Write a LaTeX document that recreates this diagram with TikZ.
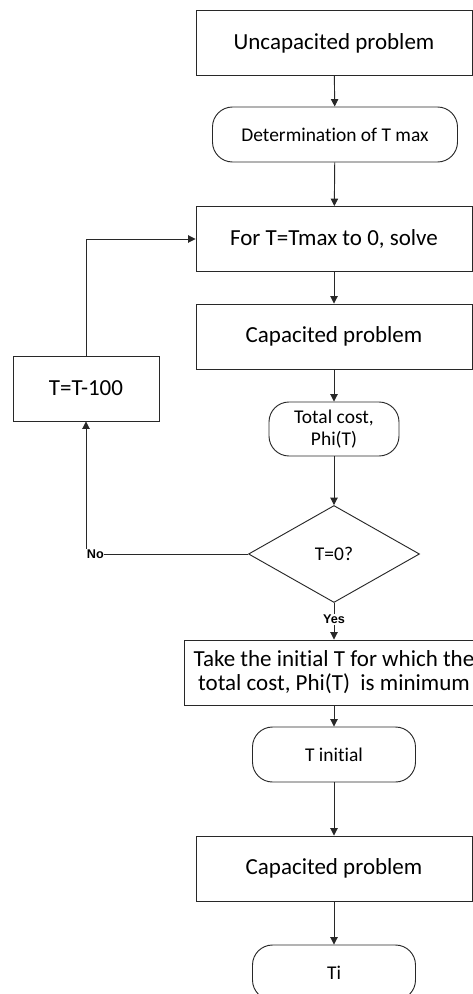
\documentclass[tikz,border=0pt]{standalone}
\usepackage{fontspec}
\setmainfont{Carlito}[Ligatures=NoCommon]
\newfontfamily\lblfont{Liberation Sans}
\usepackage{tikz}
\usetikzlibrary{shapes.geometric, arrows.meta, positioning}
\definecolor{cLine}{RGB}{40,40,40}
\tikzset{
	mainbox/.style ={rectangle, draw=cLine, line width=0.7pt, minimum width=207pt, minimum height=48.75pt, inner sep=0pt, align=center, font=\fontsize{17.25}{18}\selectfont},
	roundbox/.style={rectangle, rounded corners=15pt, draw=cLine, line width=0.7pt, minimum height=41.25pt, inner sep=0pt, align=center, font=\fontsize{14.6}{16.5}\selectfont},
	decision/.style={diamond, draw=cLine, line width=0.7pt, minimum width=128.25pt, minimum height=72.75pt, inner sep=0pt, align=center, font=\fontsize{14.6}{16.5}\selectfont},
	flowarrow/.style={-{Triangle[length=5.5pt,width=5.5pt]}, line width=0.7pt, draw=cLine},
	yesno/.style   ={font=\lblfont\fontsize{9.5}{10}\bfseries\selectfont, inner sep=1pt, fill=white},
}

\begin{document}
\begin{tikzpicture}[x=0.75pt, y=-0.75pt]
	\useasboundingbox (0,0) rectangle (473,994);
	% ---------- main column ----------
	\node[mainbox] (unc) at (334,43) {Uncapacited problem};
	\node[roundbox, minimum width=183.75pt] (tmax) at (335,134.5) {Determination of T max};
	\node[mainbox] (loop) at (334,239) {For T=Tmax to 0, solve};
	\node[mainbox] (cap1) at (334,336.5) {Capacited problem};
	\node[roundbox, minimum width=97.5pt, minimum height=40.5pt] (cost) at (334,429) {Total cost,\\Phi(T)};
	\node[decision] (test) at (334,554) {T=0?};
	\node[mainbox, minimum width=225pt] (take) at (334,672.5) {Take the initial T for which the\\total cost, Phi(T)\ \ is minimum};
	\node[roundbox, minimum width=122.25pt] (tini) at (334,754.5) {T initial};
	\node[mainbox] (cap2) at (334,868.5) {Capacited problem};
	\node[roundbox, minimum width=122.25pt] (ti) at (334,972.5) {Ti};
	% ---------- update box ----------
	\node[mainbox, minimum width=109.5pt] (step100) at (86,388.5) {T=T-100};
	% ---------- connectors ----------
	\draw[flowarrow] (unc) -- (tmax);
	\draw[flowarrow] (tmax) -- (loop);
	\draw[flowarrow] (loop) -- (cap1);
	\draw[flowarrow] (cap1) -- (cost);
	\draw[flowarrow] (cost) -- (test);
	\draw[flowarrow] (test) -- (take) node[yesno, pos=0.45] {Yes};
	\draw[flowarrow] (take) -- (tini);
	\draw[flowarrow] (tini) -- (cap2);
	\draw[flowarrow] (cap2) -- (ti);
	% ---------- loop back ----------
	\coordinate (nocorner) at (step100.south |- test.west);
	\draw[flowarrow] (test.west) -- (nocorner) -- (step100.south);
	\node[yesno, anchor=west, inner sep=0.5pt] (nolbl) at (nocorner) {No};
	\draw[flowarrow] (step100.north) |- (loop.west);
\end{tikzpicture}
\end{document}
